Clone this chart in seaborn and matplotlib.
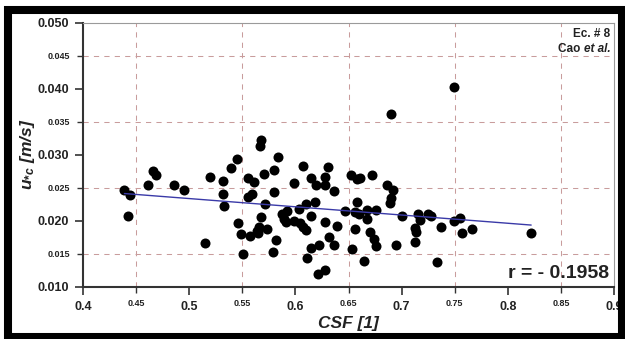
import numpy as np
import pandas as pd
import matplotlib.pyplot as plt
import seaborn as sns
from matplotlib.patches import Rectangle
from matplotlib.ticker import MultipleLocator, FixedLocator, FormatStrFormatter

# CSF values and critical shear velocity
csf = [0.439, 0.444, 0.442, 0.461, 0.466, 0.469, 0.486, 0.495, 0.515, 0.520,
       0.532, 0.532, 0.533, 0.539, 0.545, 0.546, 0.549, 0.551, 0.555, 0.555,
       0.559, 0.561, 0.557, 0.564, 0.565, 0.568, 0.567, 0.570, 0.568, 0.571,
       0.566, 0.573, 0.580, 0.580, 0.579, 0.582, 0.584, 0.587, 0.589, 0.591,
       0.592, 0.599, 0.599, 0.603, 0.604, 0.607, 0.607, 0.610, 0.610, 0.611,
       0.615, 0.615, 0.615, 0.618, 0.619, 0.621, 0.622, 0.628, 0.628, 0.628,
       0.628, 0.631, 0.632, 0.636, 0.636, 0.639, 0.647, 0.652, 0.653, 0.656,
       0.656, 0.658, 0.658, 0.661, 0.660, 0.665, 0.667, 0.667, 0.670, 0.672,
       0.674, 0.676, 0.676, 0.686, 0.690, 0.689, 0.690, 0.692, 0.695, 0.700,
       0.713, 0.714, 0.713, 0.715, 0.717, 0.725, 0.728, 0.733, 0.737, 0.749,
       0.749, 0.755, 0.757, 0.766, 0.822]
u_c = [0.0246, 0.0239, 0.0208, 0.0255, 0.0275, 0.0269, 0.0255, 0.0247, 0.0167, 0.0267,
       0.0260, 0.0240, 0.0223, 0.0280, 0.0293, 0.0197, 0.0180, 0.0150, 0.0265, 0.0236,
       0.0241, 0.0259, 0.0177, 0.0185, 0.0182, 0.0322, 0.0313, 0.0271, 0.0206, 0.0225,
       0.0191, 0.0187, 0.0277, 0.0243, 0.0153, 0.0171, 0.0297, 0.0211, 0.0203, 0.0199,
       0.0215, 0.0257, 0.0200, 0.0218, 0.0197, 0.0283, 0.0191, 0.0186, 0.0225, 0.0144,
       0.0207, 0.0265, 0.0159, 0.0228, 0.0254, 0.0119, 0.0164, 0.0198, 0.0126, 0.0267,
       0.0254, 0.0282, 0.0175, 0.0164, 0.0245, 0.0192, 0.0215, 0.0269, 0.0157, 0.0188,
       0.0213, 0.0229, 0.0263, 0.0265, 0.0211, 0.0139, 0.0203, 0.0216, 0.0183, 0.0269,
       0.0172, 0.0162, 0.0216, 0.0254, 0.0361, 0.0227, 0.0235, 0.0247, 0.0164, 0.0208,
       0.0189, 0.0183, 0.0168, 0.0211, 0.0201, 0.0211, 0.0207, 0.0138, 0.0190, 0.0200,
       0.0402, 0.0204, 0.0182, 0.0187, 0.0182]

x_minor = [0.45, 0.55, 0.65, 0.75, 0.85]
y_minor = [0.015, 0.025, 0.035, 0.045]

df = pd.DataFrame({'CSF': csf, 'u_c': u_c})

sns.set_style('white')
plt.rcParams['font.family'] = ['Liberation Sans Narrow', 'Liberation Sans', 'DejaVu Sans']
plt.rcParams['font.weight'] = 'bold'
plt.rcParams['mathtext.fontset'] = 'custom'
plt.rcParams['mathtext.it'] = 'Liberation Sans:italic:bold'
plt.rcParams['mathtext.rm'] = 'Liberation Sans:bold'

fig = plt.figure(figsize=(6.25, 3.39), dpi=100)
ax = fig.add_axes([0.1328, 0.1534, 0.8496, 0.7802])

sns.regplot(data=df, x='CSF', y='u_c', ax=ax, ci=None, truncate=True,
            scatter_kws=dict(s=52, color='black', linewidths=0, alpha=1, zorder=3),
            line_kws=dict(color='#3a3aa8', lw=1.0, zorder=4))

ax.set_xlim(0.4, 0.9)
ax.set_ylim(0.010, 0.050)
ax.xaxis.set_major_locator(MultipleLocator(0.1))
ax.xaxis.set_minor_locator(FixedLocator(x_minor))
ax.yaxis.set_major_locator(MultipleLocator(0.010))
ax.yaxis.set_minor_locator(FixedLocator(y_minor))
ax.xaxis.set_major_formatter(FormatStrFormatter('%g'))
ax.xaxis.set_minor_formatter(FormatStrFormatter('%g'))
ax.yaxis.set_major_formatter(FormatStrFormatter('%.3f'))
ax.yaxis.set_minor_formatter(FormatStrFormatter('%.3f'))

ax.tick_params(which='major', direction='out', length=6, width=1.2, color='#333333',
               labelsize=9, pad=4, bottom=True, left=True)
ax.tick_params(which='minor', direction='out', length=4, width=1.0, color='#333333',
               labelsize=6.5, pad=5, bottom=True, left=True)
for lab in ax.get_xticklabels(which='both') + ax.get_yticklabels(which='both'):
    lab.set_fontweight('bold')
    lab.set_color('#222222')

ax.grid(False)
ax.grid(which='minor', color='#c99c9c', linestyle=(0, (5, 5)), linewidth=0.75)

for side in ['left', 'bottom']:
    ax.spines[side].set_color('#333333')
    ax.spines[side].set_linewidth(1.5)
for side in ['top', 'right']:
    ax.spines[side].set_color('#9a9a9a')
    ax.spines[side].set_linewidth(0.8)

ax.set_xlabel('CSF [1]', fontsize=12.5, fontstyle='italic', fontweight='bold', color='#222222', labelpad=2)
ax.set_ylabel(r'$u_{*c}$ [m/s]', fontsize=12.5, fontstyle='italic', fontweight='bold', color='#222222', labelpad=0)

t_etal = ax.text(0.993, 0.89, 'et al.', transform=ax.transAxes, ha='right', va='baseline',
                 fontsize=8.5, fontstyle='italic', fontweight='bold', color='#222222')
ax.annotate('Cao ', xy=(0, 0), xycoords=t_etal, ha='right', va='bottom',
            fontsize=8.5, fontweight='bold', color='#222222')
ax.text(0.993, 0.945, 'Ec. # 8', transform=ax.transAxes, ha='right', va='baseline',
        fontsize=8.5, fontweight='bold', color='#222222')
ax.text(0.99, 0.035, 'r = - 0.1958', transform=ax.transAxes, ha='right', va='baseline',
        fontsize=14, fontweight='bold', color='#222222')

# black frame round the whole picture
fig.patches.append(Rectangle((8 / 625, 1 - 337 / 339), (622 - 8) / 625, (337 - 10) / 339,
                             transform=fig.transFigure, fill=False, lw=5.8, ec='black'))

fig.savefig('out.png', dpi=100)
